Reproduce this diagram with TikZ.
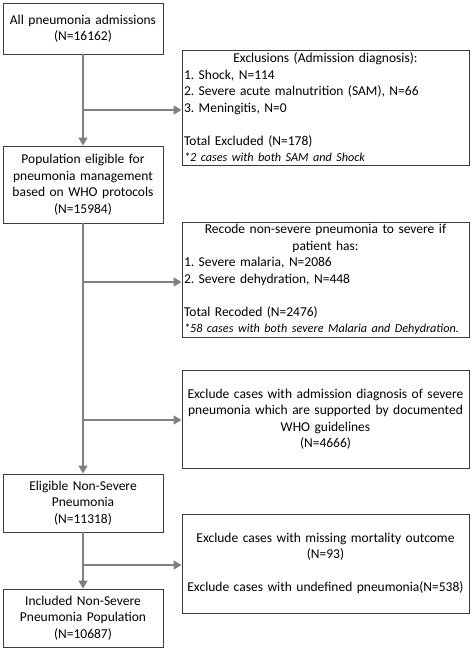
\documentclass[tikz,border=0pt]{standalone}
\usepackage{fontspec}
\setmainfont{Carlito}
\usetikzlibrary{arrows.meta, positioning}
\definecolor{flowgray}{RGB}{128, 128, 128}
\definecolor{edgegray}{RGB}{60, 60, 60}
\frenchspacing
% one line of a box, centred or flush left
\newcommand{\rowc}[1]{\makebox[\linewidth]{#1}}
\newcommand{\rowl}[1]{\makebox[\linewidth][l]{#1}}
\newcommand{\footnotetxt}[1]{{\itshape\fontsize{12.2}{16.5}\selectfont #1}}

\begin{document}
\begin{tikzpicture}[x=1pt, y=-1pt,
  box/.style={draw=edgegray, line width=0.9pt, align=left, inner sep=2pt,
    font=\fontsize{13.5}{16.5}\selectfont},
  mainbox/.style={box, text width=156pt},
  sidebox/.style={box, text width=283pt},
  flow/.style={draw=flowgray, line width=1.4pt, -{Triangle[length=8pt, width=9pt]}}]
  \useasboundingbox (0,0) rectangle (472,649);

  % Main column
  \node[mainbox, minimum height=51pt] (admissions) at (83,28.5)
    {\rowc{All pneumonia admissions}\\\rowc{(N=16162)}};
  \node[mainbox, minimum height=77pt] (eligible) at (83,184.5)
    {\rowc{Population eligible for}\\\rowc{pneumonia management}\\
     \rowc{based on WHO protocols}\\\rowc{(N=15984)}};
  \node[mainbox, minimum height=58pt] (nonsevere) at (83,503)
    {\rowc{Eligible Non-Severe}\\\rowc{Pneumonia}\\\rowc{(N=11318)}};
  \node[mainbox, minimum height=58pt] (included) at (83,618)
    {\rowc{Included Non-Severe}\\\rowc{Pneumonia Population}\\\rowc{(N=10687)}};

  % Side boxes
  \node[sidebox, minimum height=115pt] (exclusions) at (325.5,107.5)
    {\rowc{Exclusions (Admission diagnosis):}\\
     \rowl{1. Shock, N=114}\\
     \rowl{2. Severe acute malnutrition (SAM), N=66}\\
     \rowl{3. Meningitis, N=0}\\[16.5pt]
     \rowl{Total Excluded (N=178)}\\
     \rowl{\footnotetxt{*2 cases with both SAM and Shock}}};
  \node[sidebox, minimum height=115pt] (recode) at (325.5,279.5)
    {\rowc{Recode non-severe pneumonia to severe if}\\
     \rowc{patient has:}\\
     \rowl{1. Severe malaria, N=2086}\\
     \rowl{2. Severe dehydration, N=448}\\[16.5pt]
     \rowl{Total Recoded (N=2476)}\\
     \rowl{\footnotetxt{*58 cases with both severe Malaria and Dehydration.}}};
  \node[sidebox, minimum height=98pt] (severe) at (325.5,419)
    {\rowc{Exclude cases with admission diagnosis of severe}\\
     \rowc{pneumonia which are supported by documented}\\
     \rowc{WHO guidelines}\\
     \rowc{(N=4666)}};
  \node[sidebox, minimum height=99pt] (missing) at (325.5,563.5)
    {\rowc{Exclude cases with missing mortality outcome}\\
     \rowc{(N=93)}\\[16.5pt]
     \rowc{Exclude cases with undefined pneumonia(N=538)}};

  % Arrows
  \draw[flow] (admissions.south) -- (eligible.north);
  \draw[flow] (eligible.south) -- (nonsevere.north);
  \draw[flow] (nonsevere.south) -- (included.north);
  \foreach \y/\target in {110/exclusions, 282/recode, 420/severe, 565/missing} {
    \coordinate (split-\target) at (83,\y);
    \draw[flow] (split-\target) -- (split-\target -| \target.west);
  }
\end{tikzpicture}
\end{document}
